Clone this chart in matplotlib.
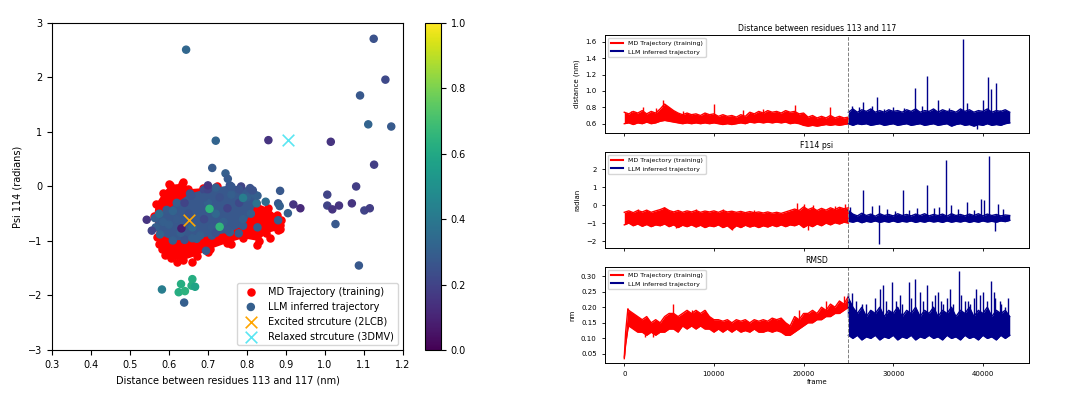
import numpy as np
import matplotlib.pyplot as plt

# ---------------- left panel: psi vs distance scatter ----------------
# MD (training) cloud: outline of the dense red blob + a few stray points
md_hull_x = [0.562, 0.566, 0.585, 0.603, 0.633, 0.650, 0.688, 0.722, 0.782, 0.822, 0.855, 0.876,
             0.884, 0.880, 0.848, 0.830, 0.790, 0.748, 0.705, 0.671, 0.637, 0.605, 0.583, 0.570]
md_hull_y = [-0.55, -0.33, -0.12, 0.03, 0.05, -0.05, -0.03, 0.0, -0.15, -0.30, -0.40, -0.53,
             -0.70, -0.80, -0.86, -1.00, -0.95, -1.04, -1.15, -1.27, -1.35, -1.32, -1.15, -0.92]
md_extra_x = [0.636, 0.600, 0.884, 0.888, 0.826, 0.590, 0.620, 0.700, 0.760, 0.860, 0.660, 0.575]
md_extra_y = [0.08, 0.05, -0.78, -0.61, -1.07, -1.25, -1.38, -1.20, -1.05, -0.95, -1.39, -1.05]

# LLM inferred cloud: outline of the core + interior points + outliers, with colour values
llm_hull_x = [0.564, 0.575, 0.594, 0.620, 0.654, 0.690, 0.720, 0.756, 0.785, 0.808, 0.820,
              0.825, 0.810, 0.790, 0.756, 0.710, 0.671, 0.640, 0.610, 0.577, 0.566]
llm_hull_y = [-0.58, -0.50, -0.43, -0.30, -0.13, -0.06, -0.02, 0.02, 0.0, -0.03, -0.15,
              -0.31, -0.50, -0.72, -0.84, -0.90, -0.96, -0.98, -0.99, -0.88, -0.75]
llm_hull_c = [0.30, 0.35, 0.28, 0.30, 0.25, 0.22, 0.30, 0.25, 0.20, 0.25, 0.30,
              0.38, 0.30, 0.28, 0.30, 0.27, 0.30, 0.25, 0.30, 0.32, 0.30]

llm_x = [0.600, 0.620, 0.630, 0.650, 0.660, 0.670, 0.680, 0.690, 0.700, 0.710, 0.720, 0.730,
         0.740, 0.750, 0.760, 0.770, 0.780, 0.790, 0.800, 0.640, 0.610, 0.585, 0.690, 0.750,
         0.720, 0.660, 0.700, 0.780,
         0.644, 1.125, 1.155, 1.090, 1.111, 1.170, 0.720, 0.855, 1.015, 1.126, 0.711, 0.745,
         0.751, 0.700, 1.080, 1.006, 0.885, 1.006, 1.019, 1.036, 1.069, 1.101, 1.115, 1.027,
         1.087, 0.919, 0.937, 0.905, 0.880, 0.884, 0.880, 0.848, 0.827, 0.779, 0.695, 0.543,
         0.556, 0.632, 0.657, 0.582, 0.631, 0.660, 0.625, 0.641, 0.658, 0.667, 0.639, 0.704,
         0.730, 0.790, 0.827, 0.815, 0.760]
llm_y = [-0.70, -0.60, -0.85, -0.50, -0.75, -0.40, -0.90, -0.60, -0.30, -0.75, -0.50, -0.20,
         -0.65, -0.40, -0.15, -0.55, -0.30, -0.60, -0.20, -0.30, -0.45, -0.65, -0.20, -0.80,
         -0.85, -0.95, -0.05, -0.05,
         2.51, 2.71, 1.96, 1.67, 1.14, 1.10, 0.84, 0.85, 0.82, 0.40, 0.34, 0.24,
         0.14, 0.02, 0.00, -0.15, -0.08, -0.35, -0.42, -0.35, -0.31, -0.44, -0.40, -0.69,
         -1.45, -0.33, -0.40, -0.49, -0.31, -0.36, -0.62, -0.28, -0.75, -0.86, -1.18, -0.61,
         -0.81, -0.77, -0.17, -1.89, -1.79, -1.70, -1.94, -1.92, -1.82, -1.84, -2.13, -0.41,
         -0.74, -0.21, -0.17, -0.07, 0.00]
llm_c = [0.30, 0.28, 0.30, 0.25, 0.33, 0.27, 0.30, 0.22, 0.30, 0.28, 0.33, 0.25,
         0.30, 0.20, 0.30, 0.27, 0.22, 0.30, 0.30, 0.20, 0.32, 0.30, 0.27, 0.28,
         0.25, 0.30, 0.20, 0.25,
         0.33, 0.25, 0.22, 0.27, 0.32, 0.28, 0.32, 0.15, 0.15, 0.18, 0.28, 0.30,
         0.28, 0.15, 0.18, 0.20, 0.27, 0.20, 0.15, 0.15, 0.15, 0.20, 0.18, 0.27,
         0.27, 0.15, 0.12, 0.30, 0.27, 0.30, 0.30, 0.35, 0.30, 0.28, 0.28, 0.15,
         0.20, 0.08, 0.25, 0.42, 0.62, 0.62, 0.62, 0.64, 0.62, 0.58, 0.30, 0.65,
         0.66, 0.42, 0.30, 0.25, 0.27]

excited = (0.652, -0.62)
relaxed = (0.905, 0.85)

# ---------------- right panels: time series ----------------
md_frames = list(range(0, 25001, 500))
llm_frames = list(range(25000, 43001, 500))
split_frame = 25000

# distance between residues 113 and 117 (nm), band low / high
md_dist_high = [0.74, 0.72, 0.75, 0.73, 0.76, 0.72, 0.75, 0.73, 0.78, 0.84,
                0.80, 0.76, 0.73, 0.71, 0.73, 0.71, 0.72, 0.70, 0.73, 0.71,
                0.72, 0.69, 0.71, 0.69, 0.70, 0.68, 0.71, 0.69, 0.74, 0.72,
                0.75, 0.73, 0.76, 0.74, 0.75, 0.73, 0.76, 0.74, 0.75, 0.72,
                0.73, 0.68, 0.70, 0.67, 0.69, 0.67, 0.70, 0.67, 0.69, 0.67, 0.68]
md_dist_low = [0.60, 0.61, 0.59, 0.61, 0.60, 0.62, 0.60, 0.61, 0.63, 0.64,
               0.63, 0.62, 0.61, 0.60, 0.61, 0.60, 0.61, 0.60, 0.61, 0.60,
               0.61, 0.60, 0.59, 0.60, 0.59, 0.60, 0.61, 0.60, 0.62, 0.61,
               0.62, 0.61, 0.62, 0.61, 0.62, 0.61, 0.62, 0.60, 0.61, 0.60,
               0.58, 0.57, 0.58, 0.57, 0.58, 0.59, 0.58, 0.59, 0.58, 0.59, 0.60]
md_dist_spk_f = [700, 2100, 3500, 4300, 6500, 10000, 13200, 15500, 19000, 23000]
md_dist_spk_v = [0.76, 0.81, 0.79, 0.89, 0.76, 0.84, 0.77, 0.78, 0.83, 0.81]
llm_dist_high = [0.74, 0.78, 0.74, 0.77, 0.75, 0.78, 0.74, 0.76, 0.74, 0.77,
                 0.75, 0.76, 0.74, 0.77, 0.75, 0.78, 0.74, 0.76, 0.75, 0.78,
                 0.74, 0.77, 0.75, 0.76, 0.74, 0.78, 0.75, 0.77, 0.74, 0.76,
                 0.75, 0.78, 0.74, 0.76, 0.75, 0.77, 0.74]
llm_dist_low = [0.60, 0.58, 0.60, 0.59, 0.60, 0.58, 0.59, 0.60, 0.58, 0.59,
                0.60, 0.58, 0.59, 0.60, 0.58, 0.59, 0.60, 0.58, 0.59, 0.60,
                0.58, 0.59, 0.60, 0.57, 0.59, 0.60, 0.58, 0.59, 0.57, 0.59,
                0.58, 0.60, 0.58, 0.59, 0.58, 0.60, 0.61]
llm_dist_spk_f = [25350, 26170, 26580, 27580, 28140, 29000, 30000, 31200, 32420, 33160, 33720,
                  35020, 36200, 37810, 38180, 39300, 40040, 40600, 40860, 41450, 41900, 42600]
llm_dist_spk_v = [0.82, 0.81, 0.86, 0.82, 0.93, 0.78, 0.80, 0.79, 1.04, 0.82, 1.18,
                  0.89, 0.79, 1.63, 0.85, 0.54, 0.89, 1.17, 1.03, 1.10, 0.77, 0.74]

# F114 psi (radian)
md_psi_high = [-0.40, -0.32, -0.42, -0.30, -0.38, -0.28, -0.40, -0.32, -0.25, -0.15,
               -0.30, -0.38, -0.30, -0.40, -0.32, -0.38, -0.30, -0.40, -0.33, -0.38,
               -0.32, -0.40, -0.30, -0.38, -0.34, -0.40, -0.35, -0.42, -0.36, -0.42,
               -0.38, -0.44, -0.38, -0.45, -0.40, -0.46, -0.38, -0.30, -0.22, -0.30,
               -0.10, -0.25, -0.15, -0.30, -0.18, -0.28, -0.15, -0.25, -0.12, -0.20, -0.15]
md_psi_low = [-1.10, -1.00, -1.15, -1.05, -1.18, -1.08, -1.20, -1.10, -1.15, -1.05,
              -1.20, -1.10, -1.25, -1.12, -1.20, -1.10, -1.22, -1.12, -1.25, -1.15,
              -1.20, -1.10, -1.25, -1.15, -1.35, -1.15, -1.25, -1.12, -1.22, -1.15,
              -1.25, -1.15, -1.22, -1.12, -1.20, -1.10, -1.20, -1.10, -1.15, -1.05,
              -1.25, -1.10, -1.20, -1.05, -1.15, -1.00, -1.10, -0.98, -1.05, -0.95, -1.00]
md_psi_spk_f = [1500, 4400, 8000, 11000, 14500, 19300, 20000, 21000, 23500, 24600, 5800, 12000, 20500]
md_psi_spk_v = [-0.20, -0.10, -0.20, -0.20, -0.25, 0.12, 0.05, 0.00, -0.05, 0.05, -1.30, -1.38, -1.38]
llm_psi_high = [-0.30, -0.50, -0.60, -0.45, -0.58, -0.50, -0.62, -0.48, -0.58, -0.52,
                -0.60, -0.48, -0.58, -0.52, -0.60, -0.50, -0.58, -0.48, -0.60, -0.52,
                -0.58, -0.50, -0.62, -0.48, -0.58, -0.52, -0.60, -0.50, -0.58, -0.48,
                -0.60, -0.50, -0.58, -0.52, -0.60, -0.55, -0.58]
llm_psi_low = [-0.90, -0.95, -0.88, -0.98, -0.90, -0.95, -0.88, -0.96, -0.90, -0.95,
               -0.88, -0.96, -0.90, -0.94, -0.88, -0.96, -0.90, -0.95, -0.88, -0.94,
               -0.90, -0.96, -0.88, -0.95, -0.90, -0.94, -0.88, -0.96, -0.90, -0.95,
               -0.88, -0.94, -0.90, -0.95, -0.88, -0.92, -0.85]
llm_psi_spk_f = [25200, 26580, 27580, 28400, 28450, 29300, 30200, 31100, 31800, 32600, 33720, 34600,
                 35100, 35840, 36500, 37200, 38180, 39000, 39740, 40110, 40670, 41410, 41710, 42300]
llm_psi_spk_v = [-0.10, 0.85, -0.05, -2.15, 0.00, -0.20, -0.30, 0.85, -0.25, -0.15, 1.10, -0.15,
                 -0.10, 2.50, 0.00, -0.20, 0.15, -0.25, 0.35, 0.30, 2.72, -1.45, 0.05, -0.20]

# RMSD (nm); the MD trace starts with a steep rise
md_rmsd_frames = [0, 150, 400] + list(range(500, 25001, 500))
md_rmsd_high = [0.040, 0.12, 0.195,
                0.19, 0.18, 0.17, 0.16, 0.17, 0.15, 0.16, 0.15, 0.17, 0.18,
                0.18, 0.17, 0.18, 0.19, 0.18, 0.19, 0.18, 0.19, 0.17, 0.16,
                0.16, 0.155, 0.16, 0.15, 0.16, 0.155, 0.16, 0.15, 0.16, 0.155,
                0.16, 0.155, 0.165, 0.16, 0.165, 0.15, 0.14, 0.17, 0.16, 0.18,
                0.18, 0.19, 0.18, 0.20, 0.19, 0.21, 0.20, 0.22, 0.21, 0.235]
md_rmsd_low = [0.035, 0.08, 0.13,
               0.14, 0.13, 0.12, 0.12, 0.11, 0.12, 0.11, 0.12, 0.12, 0.13,
               0.13, 0.12, 0.14, 0.13, 0.14, 0.13, 0.14, 0.13, 0.13, 0.12,
               0.13, 0.12, 0.13, 0.12, 0.13, 0.12, 0.125, 0.12, 0.13, 0.12,
               0.12, 0.125, 0.12, 0.125, 0.12, 0.11, 0.11, 0.12, 0.13, 0.14,
               0.15, 0.15, 0.16, 0.16, 0.17, 0.17, 0.18, 0.18, 0.19, 0.20]
md_rmsd_spk_f = [5400, 7500, 9000, 19500, 22500, 24500, 2300, 3200, 18200]
md_rmsd_spk_v = [0.21, 0.19, 0.19, 0.19, 0.22, 0.235, 0.105, 0.105, 0.11]
llm_rmsd_high = [0.23, 0.20, 0.18, 0.20, 0.17, 0.19, 0.18, 0.20, 0.17, 0.19,
                 0.18, 0.20, 0.17, 0.19, 0.18, 0.20, 0.17, 0.19, 0.18, 0.20,
                 0.17, 0.19, 0.18, 0.20, 0.17, 0.19, 0.18, 0.20, 0.17, 0.19,
                 0.18, 0.20, 0.17, 0.19, 0.18, 0.19, 0.17]
llm_rmsd_low = [0.11, 0.10, 0.11, 0.095, 0.105, 0.10, 0.11, 0.095, 0.105, 0.10,
                0.11, 0.095, 0.105, 0.10, 0.11, 0.095, 0.105, 0.10, 0.11, 0.10,
                0.105, 0.095, 0.11, 0.10, 0.105, 0.095, 0.11, 0.10, 0.105, 0.095,
                0.11, 0.10, 0.105, 0.095, 0.11, 0.10, 0.11]
llm_rmsd_spk_f = [25000, 25430, 26470, 27400, 28510, 28880, 29850, 30300, 30740, 31750, 32420, 32970,
                  33720, 34300, 35020, 35600, 36320, 37320, 37990, 38600, 39290, 40040, 40860, 41400,
                  41900, 42500,
                  25800, 27000, 28000, 29200, 31000, 32000, 33300, 34700, 35300, 36000, 36700,
                  37600, 38300, 39000, 39700, 40500, 41200, 42000, 42800]
llm_rmsd_spk_v = [0.245, 0.245, 0.21, 0.19, 0.26, 0.27, 0.28, 0.22, 0.24, 0.28, 0.29, 0.25,
                  0.27, 0.22, 0.25, 0.21, 0.26, 0.315, 0.22, 0.21, 0.26, 0.25, 0.285, 0.23,
                  0.22, 0.20,
                  0.22, 0.21, 0.23, 0.22, 0.21, 0.23, 0.22, 0.24, 0.22, 0.23, 0.21,
                  0.24, 0.22, 0.23, 0.24, 0.22, 0.25, 0.21, 0.23]

MD_COLOR = 'red'
LLM_COLOR = 'darkblue'


def draw_trace(ax, frames, low, high, spk_f, spk_v, color, label):
    ax.fill_between(frames, low, high, color=color, lw=0)
    ax.plot(frames, high, color=color, lw=1.0, label=label)
    ax.plot(frames, low, color=color, lw=1.0)
    mid = (np.array(low) + np.array(high)) / 2
    base = np.interp(spk_f, frames, mid)
    ax.vlines(spk_f, base, spk_v, color=color, lw=1.0)


fig = plt.figure(figsize=(10.8, 3.96), dpi=100)

# ---- scatter ----
ax = fig.add_axes([0.0481, 0.1162, 0.325, 0.8258])
ax.fill(md_hull_x, md_hull_y, color=MD_COLOR, lw=0, zorder=1)
ax.scatter(md_hull_x + md_extra_x, md_hull_y + md_extra_y, s=26, color=MD_COLOR,
           label='MD Trajectory (training)', zorder=2)
ax.fill(llm_hull_x, llm_hull_y, color=plt.cm.viridis(0.27), lw=0, zorder=3)
sc = ax.scatter(llm_hull_x + llm_x, llm_hull_y + llm_y, c=llm_hull_c + llm_c, cmap='viridis',
                vmin=0, vmax=1, s=26, label='LLM inferred trajectory', zorder=4)
ax.scatter([excited[0]], [excited[1]], marker='x', color='orange', s=70, linewidths=1.2,
           label='Excited strcuture (2LCB)', zorder=5)
ax.scatter([relaxed[0]], [relaxed[1]], marker='x', color='#5ae6f2', s=70, linewidths=1.2,
           label='Relaxed strcuture (3DMV)', zorder=5)
ax.set_xlim(0.3, 1.2)
ax.set_ylim(-3, 3)
ax.set_xticks(np.arange(0.3, 1.21, 0.1))
ax.set_xlabel('Distance between residues 113 and 117 (nm)', fontsize=7)
ax.set_ylabel('Psi 114 (radians)', fontsize=7)
ax.tick_params(labelsize=7)
ax.legend(loc='lower right', fontsize=7)

cax = fig.add_axes([0.3935, 0.1162, 0.0148, 0.8258])
cb = fig.colorbar(sc, cax=cax)
cb.ax.tick_params(labelsize=7)

# ---- time series ----
panels = [
    ('Distance between residues 113 and 117', 'distance (nm)', (0.486, 1.684), None,
     md_frames, md_dist_low, md_dist_high, md_dist_spk_f, md_dist_spk_v,
     llm_dist_low, llm_dist_high, llm_dist_spk_f, llm_dist_spk_v),
    ('F114 psi', 'radian', (-2.39, 2.96), None,
     md_frames, md_psi_low, md_psi_high, md_psi_spk_f, md_psi_spk_v,
     llm_psi_low, llm_psi_high, llm_psi_spk_f, llm_psi_spk_v),
    ('RMSD', 'nm', (0.021, 0.329), np.arange(0.05, 0.31, 0.05),
     md_rmsd_frames, md_rmsd_low, md_rmsd_high, md_rmsd_spk_f, md_rmsd_spk_v,
     llm_rmsd_low, llm_rmsd_high, llm_rmsd_spk_f, llm_rmsd_spk_v),
]
bottoms = [0.6641, 0.3737, 0.0833]
heights = [0.2475, 0.2424, 0.2424]

for i, (title, ylab, ylim, yt, mf, ml, mh, msf, msv, ll, lh, lsf, lsv) in enumerate(panels):
    a = fig.add_axes([0.5602, bottoms[i], 0.3926, heights[i]])
    draw_trace(a, mf, ml, mh, msf, msv, MD_COLOR, 'MD Trajectory (training)')
    draw_trace(a, llm_frames, ll, lh, lsf, lsv, LLM_COLOR, 'LLM inferred trajectory')
    a.axvline(split_frame, color='gray', ls='--', lw=0.7)
    a.set_xlim(-2150, 45150)
    a.set_ylim(*ylim)
    if yt is not None:
        a.set_yticks(yt)
        a.set_yticklabels([f'{v:.2f}' for v in yt])
    a.set_xticks(range(0, 40001, 10000))
    a.set_title(title, fontsize=5.6, pad=3)
    a.set_ylabel(ylab, fontsize=5)
    a.tick_params(labelsize=5, length=2.5, width=0.6)
    for sp in a.spines.values():
        sp.set_linewidth(0.7)
    leg = a.legend(loc='upper left', fontsize=4.5)
    for ln in leg.get_lines():
        ln.set_linewidth(1.5)
    if i < 2:
        a.set_xticklabels([])
    else:
        a.set_xlabel('frame', fontsize=5, labelpad=1)

fig.savefig('out.png', dpi=100)
